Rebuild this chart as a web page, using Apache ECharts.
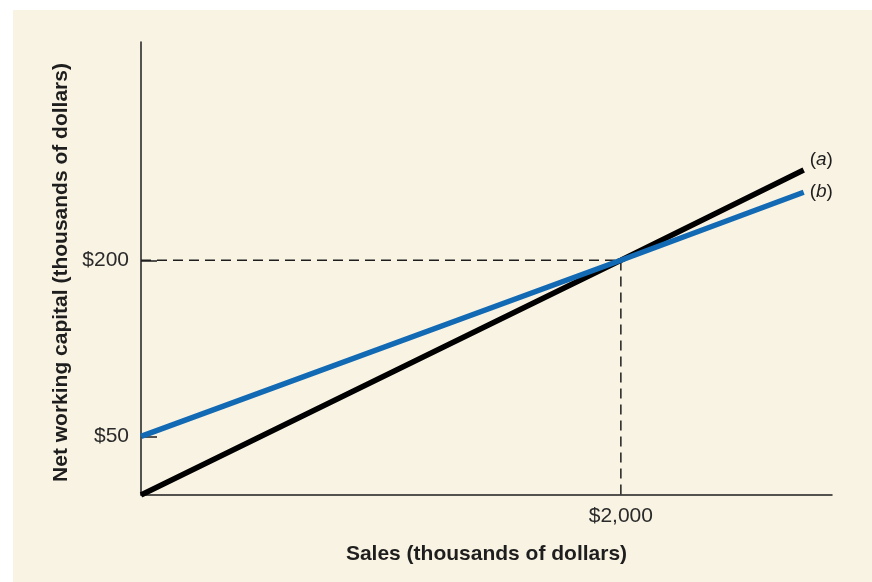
<!DOCTYPE html>
<html>
<head>
<meta charset="utf-8">
<script src="https://cdn.jsdelivr.net/npm/echarts@6/dist/echarts.min.js"></script>
<style>
html,body{margin:0;padding:0;background:#ffffff;width:872px;height:582px;overflow:hidden;}
#chart{position:absolute;left:13px;top:10px;width:859px;height:572px;}
</style>
</head>
<body>
<div id="chart"></div>
<script>
// Data
var sales = [0, 2000, 2762];          // thousands of dollars
var netA = [0, 200, 277];             // line (a)
var netB = [50, 200, 258];            // line (b)
var refX = [0, 2000, 2000];           // dashed guide
var refY = [200, 200, 0];
var xTicks = [2000];
var yTicks = [50, 200];
var xTickLabels = ['$2,000'];
var yTickLabels = ['$50', '$200'];

function pairs(xs, ys) { return xs.map(function (x, i) { return [x, ys[i]]; }); }

var chart = echarts.init(document.getElementById('chart'), null, {renderer: 'canvas'});
var font = '"Liberation Sans", Arial, Helvetica, sans-serif';
var ink = '#1e1e1e';

function endLbl(letter, off) {
  return {
    show: true,
    formatter: '{p|(}{i|' + letter + '}{p|)}',
    offset: off,
    distance: 6,
    rich: {
      p: {fontFamily: font, fontSize: 19, color: ink},
      i: {fontFamily: font, fontSize: 19, fontStyle: 'italic', color: ink}
    }
  };
}

chart.setOption({
  animation: false,
  backgroundColor: '#f9f3e3',
  grid: {left: 128, top: 32, right: 40, bottom: 87, containLabel: false},
  xAxis: {
    type: 'value', min: 0, max: 2880,
    name: 'Sales (thousands of dollars)',
    nameLocation: 'middle', nameGap: 49,
    nameTextStyle: {fontFamily: font, fontSize: 21, fontWeight: 'bold', color: ink},
    axisLine: {show: true, lineStyle: {color: ink, width: 1.5}},
    axisTick: {show: false},
    splitLine: {show: false},
    axisLabel: {
      customValues: xTicks, margin: 11,
      fontFamily: font, fontSize: 21, color: '#2a2a2a',
      formatter: function (v) { var i = xTicks.indexOf(v); return i >= 0 ? xTickLabels[i] : ''; }
    }
  },
  yAxis: {
    type: 'value', min: 0, max: 386,
    name: 'Net working capital (thousands of dollars)',
    nameLocation: 'middle', nameGap: 66,
    nameTextStyle: {fontFamily: font, fontSize: 21, fontWeight: 'bold', color: ink, padding: [0, 8, 0, 0]},
    axisLine: {show: true, lineStyle: {color: ink, width: 1.5}},
    axisTick: {show: true, inside: true, length: 16, customValues: yTicks, lineStyle: {color: ink, width: 1.5}},
    splitLine: {show: false},
    axisLabel: {
      customValues: yTicks, margin: 12,
      fontFamily: font, fontSize: 21, color: '#2a2a2a',
      formatter: function (v) { var i = yTicks.indexOf(v); return i >= 0 ? yTickLabels[i] : ''; }
    }
  },
  series: [
    {
      type: 'line', data: pairs(refX, refY), symbol: 'none', silent: true,
      lineStyle: {color: ink, width: 1.5, type: [10, 6]}
    },
    {
      type: 'line', name: 'a', data: pairs(sales, netA), symbol: 'none',
      lineStyle: {color: '#000000', width: 5.5, cap: 'butt'},
      endLabel: endLbl('a', [0, -10])
    },
    {
      type: 'line', name: 'b', data: pairs(sales, netB), symbol: 'none',
      lineStyle: {color: '#136ab4', width: 5.5, cap: 'butt'},
      endLabel: endLbl('b', [0, 0])
    }
  ]
});
</script>
</body>
</html>
